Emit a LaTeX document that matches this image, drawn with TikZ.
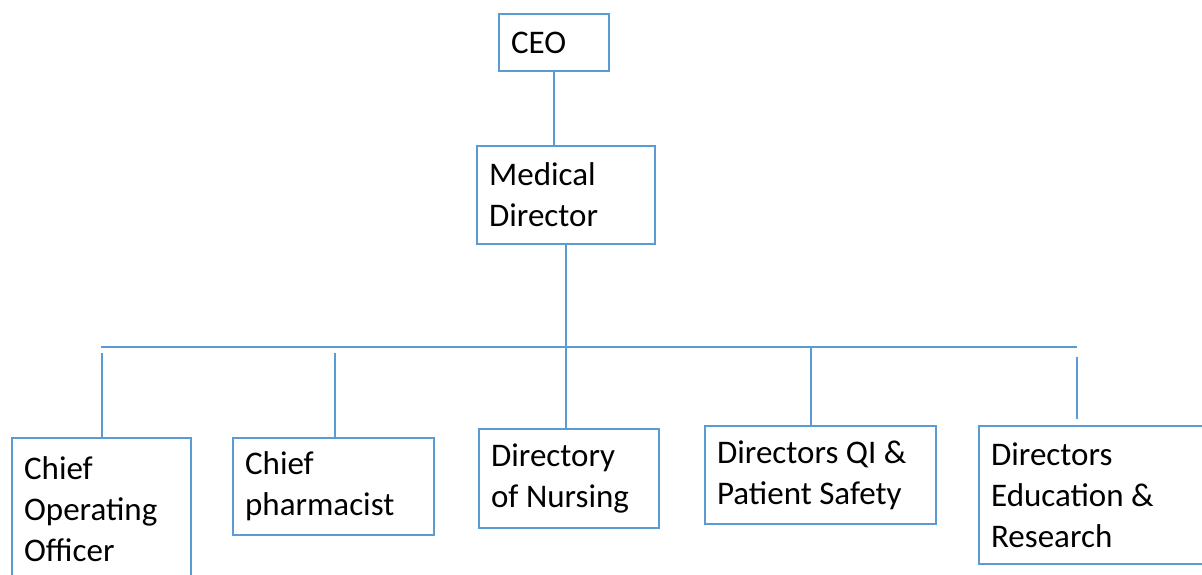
\documentclass[tikz,border=0pt]{standalone}
\usepackage{fontspec}
\setmainfont{Carlito}
\usetikzlibrary{positioning}
\definecolor{lineBlue}{HTML}{5B9BD5}
\tikzset{
  box/.style={draw=lineBlue, line width=2.2pt, anchor=north west, inner xsep=12pt, inner ysep=2pt,
    align=flush left, font=\fontsize{33}{41}\selectfont},
  lnk/.style={lineBlue, line width=2.2pt},
}

\begin{document}
\begin{tikzpicture}[x=1pt, y=-1pt]
  \useasboundingbox (0,0) rectangle (1202,575);
  % top of the chart
  \node[box, text width=86pt, minimum height=57pt] (ceo) at (498,13) {CEO};
  \node[box, text width=154pt, minimum height=98pt] (md) at (476,145) {Medical\\Director};
  % second row
  \node[box, text width=155pt, minimum height=142pt] (coo) at (11,437) {Chief\\Operating\\Officer};
  \node[box, text width=177pt, minimum height=97pt] (pha) at (232,437) {Chief\\pharmacist};
  \node[box, text width=156pt, minimum height=99pt] (nur) at (478,428) {Directory\\of Nursing};
  \node[box, text width=207pt, minimum height=98pt] (qi) at (704,425) {Directors QI \&\\Patient Safety};
  \node[box, text width=208pt, minimum height=138pt] (edu) at (978,425) {Directors\\Education \&\\Research};
  % bus and drops
  \coordinate (busL) at (101,347);
  \coordinate (busR) at (1077,347);
  \coordinate (dCoo) at (102,353);
  \coordinate (dPha) at (335,353);
  \coordinate (dQi) at (811,347);
  \coordinate (dEdu) at (1077,357);
  \draw[lnk] (ceo.south) -- (ceo.south |- md.north);
  \draw[lnk] (md.south) -- (md.south |- nur.north);
  \draw[lnk] (busL) -- (busR);
  \draw[lnk] (dCoo) -- (dCoo |- coo.north);
  \draw[lnk] (dPha) -- (dPha |- pha.north);
  \draw[lnk] (dQi) -- (dQi |- qi.north);
  \draw[lnk] (dEdu) -- (1077,419);
\end{tikzpicture}
\end{document}
